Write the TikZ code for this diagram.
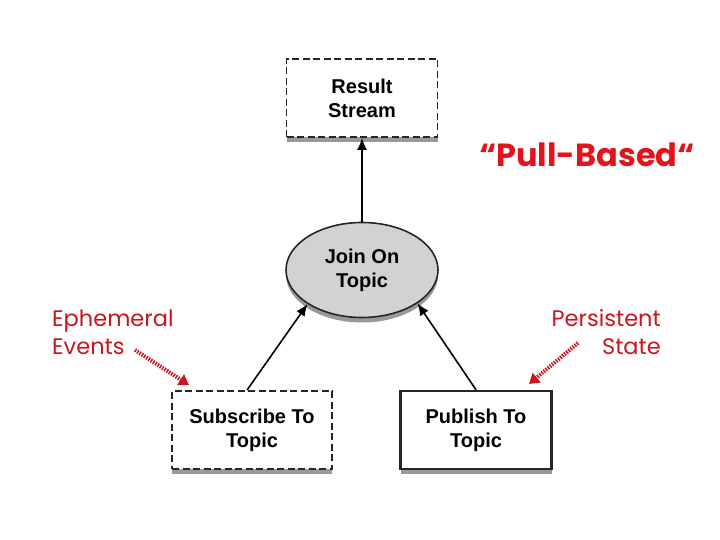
\documentclass[tikz,border=0pt]{standalone}
\usepackage{fontspec}
\setmainfont{Liberation Sans}
\newfontfamily\notefont{Poppins}
\usetikzlibrary{shapes.geometric, shadows, arrows.meta}
\definecolor{notered}{HTML}{C8161E}
\definecolor{pullred}{HTML}{E3121B}
\definecolor{joingray}{HTML}{D2D2D2}

\begin{document}
\begin{tikzpicture}[x=1pt, y=-1pt,
                    stream/.style={rectangle, draw=black!85, fill=white, align=center, minimum width=151pt, minimum height=78pt, inner sep=0pt, font=\fontsize{20}{24}\selectfont\bfseries, general shadow={fill=black!40, shadow xshift=0pt, shadow yshift=-5pt}},
                    ephemeral/.style={stream, dash pattern=on 7pt off 3.5pt, line width=1.8pt},
                    persistent/.style={stream, line width=2.4pt},
                    joinnode/.style={ellipse, draw=black!85, line width=1.6pt, fill=joingray, minimum width=152pt, minimum height=95pt, inner sep=0pt, font=\fontsize{20}{24}\selectfont\bfseries, align=center, general shadow={fill=black!40, shadow xshift=0pt, shadow yshift=-5pt}},
                    note/.style={text=notered, font=\notefont\fontsize{22.5}{28}\selectfont, inner sep=0pt},
                    arrow/.style={-{Latex[length=12pt, width=10pt]}, line width=1.6pt, draw=black},
                    notearrow/.style={-{Triangle[length=10pt, width=12pt]}, line width=4pt, draw=notered, dash pattern=on 1.5pt off 1.2pt}
                ]
                    \useasboundingbox (0,0) rectangle (720,540);
                    \node[ephemeral] (result) at (362,98) {Result\\Stream};
                    \node[joinnode] (topic) at (362,270) {Join On\\Topic};
                    \node[ephemeral, minimum width=160pt] (subscribe) at (252,430) {Subscribe To\\Topic};
                    \node[persistent, minimum width=151pt] (publish) at (476,430) {Publish To\\Topic};

                    \node[text=pullred, font=\notefont\bfseries\fontsize{32}{38}\selectfont, inner sep=0pt] (pull) at (587,155) {“Pull-Based“};
                    \node[note, anchor=west, align=left] (events) at (52,332) {Ephemeral\\Events};
                    \node[note, anchor=east, align=right] (state) at (661,332) {Persistent\\State};

                    \coordinate (eventsfrom) at (135,350);
                    \coordinate (eventsto) at (189,385);
                    \coordinate (statefrom) at (578,343);
                    \coordinate (stateto) at (529,384);

                    \draw[arrow] (topic) -- (result);
                    \draw[arrow] ([xshift=-5pt]subscribe.north) -- (topic.212);
                    \draw[arrow] (publish.north) -- (topic.329);

                    \draw[notearrow] (eventsfrom) -- (eventsto);
                    \draw[notearrow] (statefrom) -- (stateto);

                \end{tikzpicture}
\end{document}
